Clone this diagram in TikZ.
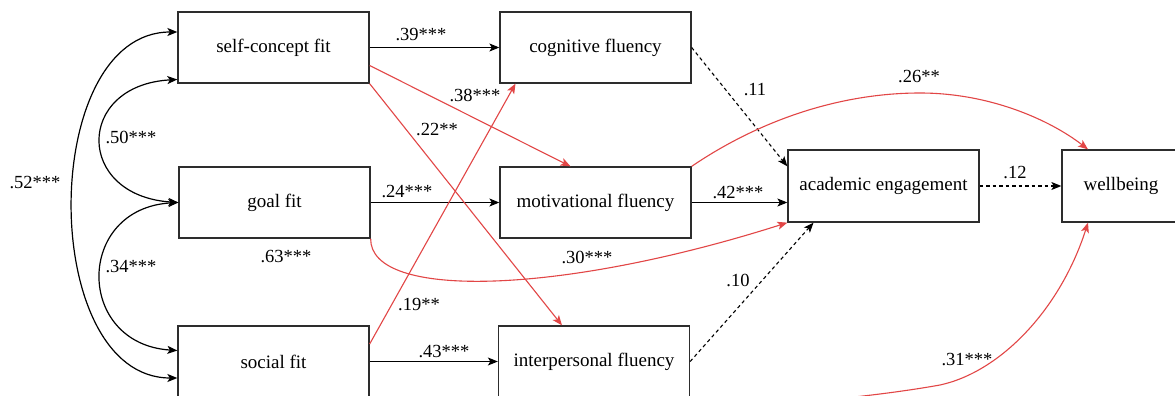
\documentclass[tikz,border=0pt]{standalone}
\usepackage{fontspec}
\setmainfont{Liberation Serif}
\usetikzlibrary{arrows.meta}
\definecolor{boxgray}{RGB}{45,45,45}
\definecolor{pathred}{RGB}{226,70,70}
\tikzset{
  box/.style={draw=boxgray, line width=1.3pt, minimum width=191pt, minimum height=71pt, inner sep=0pt, font=\fontsize{19}{22}\selectfont},
  lbl/.style={inner sep=0pt, font=\fontsize{18.5}{22}\selectfont},
  blk/.style={draw=black, line width=1.2pt, -{Stealth[length=10pt,width=8pt,inset=2.5pt]}},
  dsh/.style={draw=black, line width=1.1pt, dash pattern=on 3.5pt off 3pt, -{Stealth[length=10pt,width=8pt,inset=2.5pt]}},
  redp/.style={draw=pathred, line width=1.1pt, -{Stealth[length=10pt,width=8pt,inset=2.5pt,fill=pathred]}},
  dbl/.style={draw=black, line width=1.2pt, {Stealth[length=10pt,width=8pt,inset=2.5pt]}-{Stealth[length=10pt,width=8pt,inset=2.5pt]}}
}
\begin{document}
\begin{tikzpicture}[x=1pt,y=-1pt]
\useasboundingbox (0,0) rectangle (1175,396);
\fill[white] (0,0) rectangle (1175,396);
% boxes
\node[box] (sc)  at (273.5,47.5)  {self-concept fit};
\node[box] (gf)  at (274.5,202.5) {goal fit};
\node[box] (sf)  at (273.5,361.5) {social fit};
\node[box] (cf)  at (595.5,47.5)  {cognitive fluency};
\node[box] (mf)  at (595.5,202.5) {motivational fluency};
\node[box] (ipf) at (594,361.5)   {interpersonal fluency};
\node[box, minimum height=72pt] (ae) at (883.5,186) {academic engagement};
\node[box, minimum width=118pt, minimum height=72pt] (wb) at (1121,186) {wellbeing};
% black direct paths
\draw[blk] (sc.east) -- (sc.east -| cf.west);
\draw[blk] (gf.east) -- (gf.east -| mf.west);
\draw[blk] (sf.east) -- (sf.east -| ipf.west);
\draw[blk] (mf.east) -- (mf.east -| ae.west);
\draw[dsh] (ae.east) -- (wb.west);
\draw[dsh] (cf.east) -- ([yshift=-17pt]ae.north west);
\draw[dsh] (ipf.east) -- ([xshift=-70pt]ae.south);
% red paths
\draw[redp] ([yshift=-18pt]sc.east) -- ([xshift=-25pt]mf.north);
\draw[redp] (sc.south east) -- ([xshift=-32pt]ipf.north);
\draw[redp] ([yshift=17.5pt]sf.east) -- ([xshift=-80pt]cf.south);
\draw[redp] (gf.south east) .. controls (370,300) and (560,295) .. (ae.south west);
\draw[redp] (mf.north east) .. controls (760,120) and (840,93) .. (920,93) .. controls (990,93) and (1050,120) .. ([xshift=-33pt]wb.north);
\draw[redp] (sf.south east) .. controls (550,420) and (800,410) .. (940,385) .. controls (1000,372) and (1060,310) .. ([xshift=-33pt]wb.south);
% correlations
\draw[dbl] ([yshift=-32pt]sc.west) .. controls (75,85) and (75,196) .. (gf.west);
\draw[dbl] (gf.west) .. controls (75,208) and (75,344) .. ([yshift=11pt]sf.west);
\draw[dbl] ([yshift=15.5pt]sc.west) .. controls (38,32) and (38,378) .. ([yshift=-16.5pt]sf.west);
% labels
\node[lbl] (l39) at (421,35)  {.39***};
\node[lbl] (l24) at (407,192) {.24***};
\node[lbl] (l43) at (444,352) {.43***};
\node[lbl] (l42) at (738,193) {.42***};
\node[lbl] (l12) at (1015,173) {.12};
\node[lbl] (l11) at (755,90)  {.11};
\node[lbl] (l38) at (475,95)  {.38***};
\node[lbl] (l22) at (437,130) {.22**};
\node[lbl] (l19) at (419,305) {.19**};
\node[lbl] (l30) at (587,257) {.30***};
\node[lbl] (l63) at (286,257) {.63***};
\node[lbl] (l26) at (919,77)  {.26**};
\node[lbl] (l31) at (967,360) {.31***};
\node[lbl] (l10) at (738,280) {.10};
\node[lbl] (l50) at (131,137) {.50***};
\node[lbl] (l34) at (131,267) {.34***};
\node[lbl] (l52) at (35,183)  {.52***};
\end{tikzpicture}
\end{document}
